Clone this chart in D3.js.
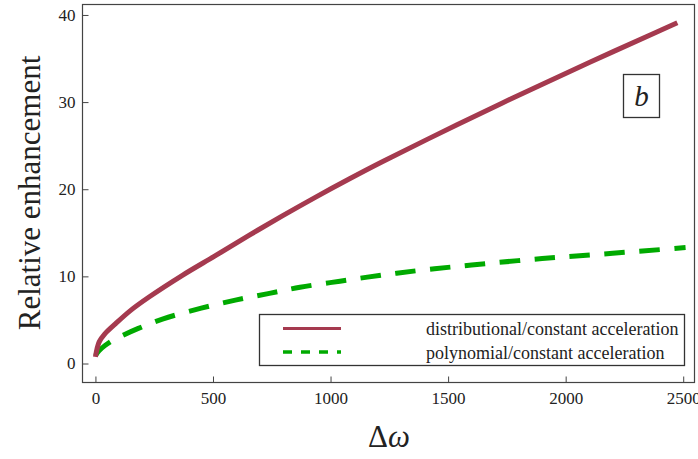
<!DOCTYPE html>
<html>
<head>
<meta charset="utf-8">
<script src="https://cdn.jsdelivr.net/npm/d3@7"></script>
<style>
  html, body { margin: 0; padding: 0; background: #fff; }
  svg { display: block; }
  svg text { font-family: "Liberation Serif", "DejaVu Serif", serif !important; fill: #222; }
</style>
</head>
<body>
<svg id="chart" width="698" height="459"></svg>
<script>
// Δω values and the enhancement ratio for each approach
const distributional = [
  [0, 0.76], [16, 2.48], [40, 3.4], [86, 4.58], [150, 6.1], [228, 7.63],
  [370, 10.12], [512, 12.4], [653, 14.7], [795, 16.94], [937, 19.1],
  [1079, 21.17], [1220, 23.15], [1538, 27.4], [1821, 31.05], [2105, 34.6],
  [2388, 38.05], [2475, 39.1]
];
const polynomial = [
  [0, 0.9], [15, 1.45], [40, 2.05], [70, 2.6], [110, 3.15], [180, 4.0],
  [285, 5.1], [450, 6.35], [600, 7.3], [740, 8.05], [870, 8.75],
  [1040, 9.45], [1220, 10.15], [1400, 10.75], [1600, 11.3], [1900, 12.05],
  [2200, 12.65], [2510, 13.3]
];
const xTicks = [0, 500, 1000, 1500, 2000, 2500];
const yTicks = [0, 10, 20, 30, 40];
const seriesNames = [
  "distributional/constant acceleration",
  "polynomial/constant acceleration"
];
const panelLabel = "b";

const serif = "'Liberation Serif', 'DejaVu Serif', serif";
const svg = d3.select("#chart").attr("font-family", serif);
const frame = { left: 82.5, right: 694.5, top: 4.5, bottom: 382.5 };

const x = d3.scaleLinear().domain([-55, 2548]).range([frame.left, frame.right]);
const y = d3.scaleLinear().domain([-2.18, 41.2]).range([frame.bottom, frame.top]);

const red = "#a53a4f";
const green = "#00aa00";

// plot frame
svg.append("rect")
  .attr("x", frame.left).attr("y", frame.top)
  .attr("width", frame.right - frame.left)
  .attr("height", frame.bottom - frame.top)
  .attr("fill", "none").attr("stroke", "#444").attr("stroke-width", 1.2);

// axes with inward ticks
const xAxis = d3.axisBottom(x).tickValues(xTicks).tickSizeInner(-6).tickSizeOuter(0).tickPadding(9)
  .tickFormat(d3.format("d"));
const yAxis = d3.axisLeft(y).tickValues(yTicks).tickSizeInner(-6).tickSizeOuter(0).tickPadding(7)
  .tickFormat(d3.format("d"));

const gx = svg.append("g").attr("transform", `translate(0,${frame.bottom})`).call(xAxis);
const gy = svg.append("g").attr("transform", `translate(${frame.left},0)`).call(yAxis);
[gx, gy].forEach(g => {
  g.attr("font-family", serif).attr("font-size", 17);
  g.select(".domain").remove();
  g.selectAll(".tick line").attr("stroke", "#444").attr("stroke-width", 1);
  g.selectAll(".tick text").attr("fill", "#222").style("font-size", "17px");
});

// curves
const line = d3.line().x(d => x(d[0])).y(d => y(d[1])).curve(d3.curveCatmullRom.alpha(0.5));

svg.append("path").datum(polynomial)
  .attr("d", line).attr("fill", "none")
  .attr("stroke", green).attr("stroke-width", 5)
  .attr("stroke-dasharray", "20.5,14.5");

svg.append("path").datum(distributional)
  .attr("d", line).attr("fill", "none")
  .attr("stroke", red).attr("stroke-width", 5)
  .attr("stroke-linejoin", "round");

// axis titles
svg.append("text")
  .attr("transform", "translate(40,193) rotate(-90)")
  .attr("text-anchor", "middle")
  .attr("font-size", 31)
  .text("Relative enhancement");

const xt = svg.append("text")
  .attr("x", 389).attr("y", 447)
  .attr("text-anchor", "middle")
  .attr("font-size", 31);
xt.append("tspan").text("Δ");
xt.append("tspan").attr("font-style", "italic").text("ω");

// panel label
svg.append("rect")
  .attr("x", 623.5).attr("y", 74.5).attr("width", 36).attr("height", 43)
  .attr("fill", "#fff").attr("stroke", "#333").attr("stroke-width", 1.3);
svg.append("text")
  .attr("x", 641.5).attr("y", 106)
  .attr("text-anchor", "middle")
  .attr("font-size", 29).attr("font-style", "italic")
  .text(panelLabel);

// legend
const lg = svg.append("g");
lg.append("rect")
  .attr("x", 259.5).attr("y", 314.5).attr("width", 425).attr("height", 51)
  .attr("fill", "#fff").attr("stroke", "#333").attr("stroke-width", 1.3);
const legendItems = [
  { name: seriesNames[0], color: red, dash: null, w: 3.2 },
  { name: seriesNames[1], color: green, dash: "9,9", w: 3.5 }
];
legendItems.forEach((it, i) => {
  const ly = 328.5 + i * 23.5;
  lg.append("line")
    .attr("x1", 283).attr("x2", 341).attr("y1", ly).attr("y2", ly)
    .attr("stroke", it.color).attr("stroke-width", it.w)
    .attr("stroke-dasharray", it.dash);
  lg.append("text")
    .attr("x", 426).attr("y", ly + 6.5)
    .attr("font-size", 18)
    .text(it.name);
});
</script>
</body>
</html>
